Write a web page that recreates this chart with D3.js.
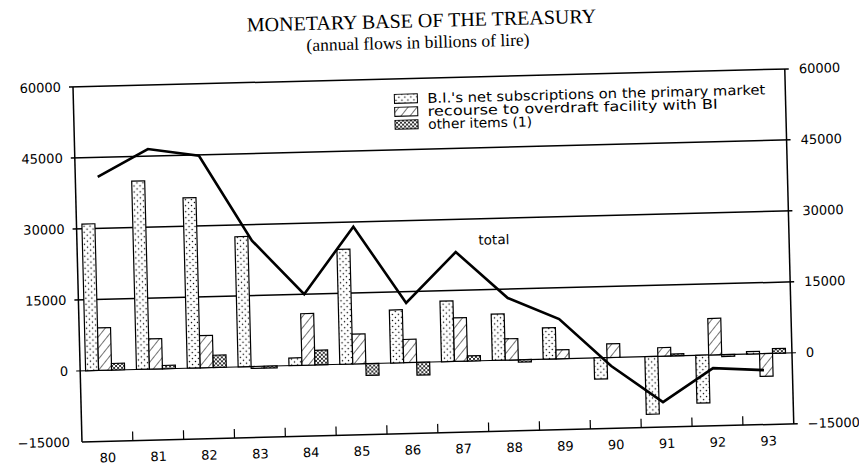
<!DOCTYPE html>
<html>
<head>
<meta charset="utf-8">
<script src="https://cdn.jsdelivr.net/npm/d3@7"></script>
<style>
  body { margin: 0; background: #fff; }
  svg { display: block; }
</style>
</head>
<body>
<div id="chart"></div>
<script>
/* Data (billions of lire) */
var years = ["80", "81", "82", "83", "84", "85", "86", "87", "88", "89", "90", "91", "92", "93"];
var subscriptions = [31000, 39800, 36000, 27500, 1600, 24300, 11200, 12800, 9800, 6600, -4500, -12200, -10100, 500];
var overdraft = [9000, 6400, 6800, -400, 10900, 6300, 4900, 9200, 4500, 1900, 2900, 1800, 7700, -4800];
var other = [1400, 700, 2600, -400, 3100, -2500, -2700, 1100, -500, 0, 0, 400, -400, 1000];
var total = [40900, 46500, 44800, 26600, 15000, 29000, 12600, 23100, 13100, 8400, -1800, -9700, -2800, -3500];
var yTicks = [-15000, 0, 15000, 30000, 45000, 60000];
var legendLabels = ["B.I.'s net subscriptions on the primary market",
                    "recourse to overdraft facility with BI",
                    "other items (1)"];

/* Dimensions: the scan is slightly tilted, so the whole drawing is rotated */
var W = 859, H = 464,
    marginLeft = 73, marginTop = 87,
    width = 712, height = 355,
    tilt = -1.45;

var svg = d3.select("#chart").append("svg").attr("width", W).attr("height", H);

/* Fill patterns */
var defs = svg.append("defs");

var dots = defs.append("pattern").attr("id", "dots")
    .attr("patternUnits", "userSpaceOnUse").attr("width", 6).attr("height", 6);
dots.append("rect").attr("width", 6).attr("height", 6).attr("fill", "#fff");
dots.append("circle").attr("cx", 1.5).attr("cy", 1.5).attr("r", 0.75).attr("fill", "#000");
dots.append("circle").attr("cx", 4.5).attr("cy", 4.5).attr("r", 0.75).attr("fill", "#000");

var hatch = defs.append("pattern").attr("id", "hatch")
    .attr("patternUnits", "userSpaceOnUse").attr("width", 7).attr("height", 7)
    .attr("patternTransform", "rotate(40)");
hatch.append("rect").attr("width", 7).attr("height", 7).attr("fill", "#fff");
hatch.append("line").attr("x1", 0).attr("y1", 0).attr("x2", 0).attr("y2", 7)
    .attr("stroke", "#000").attr("stroke-width", 1.1);

var cross = defs.append("pattern").attr("id", "cross")
    .attr("patternUnits", "userSpaceOnUse").attr("width", 4).attr("height", 4);
cross.append("rect").attr("width", 4).attr("height", 4).attr("fill", "#fff");
cross.append("path").attr("d", "M0,0L4,4M4,0L0,4").attr("stroke", "#000").attr("stroke-width", 0.8);

var fills = ["url(#dots)", "url(#hatch)", "url(#cross)"];

var g = svg.append("g")
    .attr("transform", "rotate(" + tilt + " " + marginLeft + " " + marginTop + ")")
  .append("g")
    .attr("transform", "translate(" + marginLeft + "," + marginTop + ")");

/* Scales */
var x = d3.scaleBand().domain(years).range([0, width]);
var xSeries = d3.scaleBand().domain([0, 1, 2]).range([x.bandwidth() / 2 - 20, x.bandwidth() / 2 + 19]);
var y = d3.scaleLinear().domain([-15000, 60000]).range([height, 0]);

/* Title */
g.append("text")
    .attr("x", 350).attr("y", -51)
    .attr("text-anchor", "middle")
    .style("font-family", "'Liberation Serif', serif")
    .style("font-size", "20px")
    .text("MONETARY BASE OF THE TREASURY");
g.append("text")
    .attr("x", 346).attr("y", -30)
    .attr("text-anchor", "middle")
    .style("font-family", "'Liberation Serif', serif")
    .style("font-size", "17.5px")
    .text("(annual flows in billions of lire)");

/* Horizontal grid lines */
g.selectAll(".grid")
    .data(yTicks.filter(function(d) { return d > 0; }))
    .enter().append("line")
    .attr("class", "grid")
    .attr("x1", -4).attr("x2", width + 4)
    .attr("y1", y).attr("y2", y)
    .attr("stroke", "#000").attr("stroke-width", 1.5);

/* Zero line */
g.append("line")
    .attr("x1", -4).attr("x2", width + 4)
    .attr("y1", y(0)).attr("y2", y(0))
    .attr("stroke", "#000").attr("stroke-width", 1.1);

/* Frame: left, right and bottom */
g.append("line").attr("x1", 0).attr("x2", 0).attr("y1", 0).attr("y2", height)
    .attr("stroke", "#000").attr("stroke-width", 1.5);
g.append("line").attr("x1", width).attr("x2", width).attr("y1", 0).attr("y2", height)
    .attr("stroke", "#000").attr("stroke-width", 1.5);
g.append("line").attr("x1", 0).attr("x2", width + 4).attr("y1", height).attr("y2", height)
    .attr("stroke", "#000").attr("stroke-width", 1.5);

/* Ticks between year groups */
g.selectAll(".xtick")
    .data(years.slice(1))
    .enter().append("line")
    .attr("class", "xtick")
    .attr("x1", function(d) { return x(d); })
    .attr("x2", function(d) { return x(d); })
    .attr("y1", height).attr("y2", height - 9)
    .attr("stroke", "#000").attr("stroke-width", 1.2);

/* Axis labels */
var labelFont = "'DejaVu Sans', sans-serif";
g.selectAll(".ylabel-l")
    .data(yTicks)
    .enter().append("text")
    .attr("x", -12).attr("y", y)
    .attr("dy", "0.35em")
    .attr("text-anchor", "end")
    .style("font-family", labelFont).style("font-size", "13px")
    .text(function(d) { return d < 0 ? "\u2212" + (-d) : d; });

g.selectAll(".ylabel-r")
    .data(yTicks)
    .enter().append("text")
    .attr("x", width + 14).attr("y", y)
    .attr("dy", "0.35em")
    .attr("text-anchor", "start")
    .style("font-family", labelFont).style("font-size", "13px")
    .text(function(d) { return d < 0 ? "\u2212" + (-d) : d; });

g.selectAll(".xlabel")
    .data(years)
    .enter().append("text")
    .attr("x", function(d) { return x(d) + x.bandwidth() / 2; })
    .attr("y", height + 21)
    .attr("text-anchor", "middle")
    .style("font-family", labelFont).style("font-size", "13px")
    .text(function(d) { return d; });

/* Bars */
var series = [subscriptions, overdraft, other];
series.forEach(function(values, s) {
    g.selectAll(".bar" + s)
        .data(values)
        .enter().append("rect")
        .attr("x", function(d, i) { return x(years[i]) + xSeries(s); })
        .attr("width", xSeries.bandwidth())
        .attr("y", function(d) { return y(Math.max(0, d)); })
        .attr("height", function(d) { return Math.abs(y(d) - y(0)); })
        .attr("fill", fills[s])
        .attr("stroke", "#000")
        .attr("stroke-width", 1.2);
});

/* Total line */
var line = d3.line()
    .x(function(d, i) { return x(years[i]) + x.bandwidth() / 2 - 3; })
    .y(function(d) { return y(d); });

g.append("path")
    .datum(total)
    .attr("d", line)
    .attr("fill", "none")
    .attr("stroke", "#000")
    .attr("stroke-width", 2.6)
    .attr("stroke-linejoin", "miter");

g.append("text")
    .attr("x", x("87") + x.bandwidth() / 2 + 20)
    .attr("y", y(24500))
    .style("font-family", labelFont).style("font-size", "13.5px")
    .text("total");

/* Legend */
var legendLengths = [338, 290, 104];
var legend = g.selectAll(".legend")
    .data(legendLabels)
    .enter().append("g")
    .attr("class", "legend")
    .attr("transform", function(d, i) { return "translate(321," + (20 + i * 13) + ")"; });

legend.append("rect")
    .attr("x", 0).attr("y", -4.5)
    .attr("width", 23).attr("height", 9)
    .attr("fill", function(d, i) { return fills[i]; })
    .attr("stroke", "#000").attr("stroke-width", 1);

legend.append("text")
    .attr("x", 33).attr("dy", "0.36em")
    .attr("textLength", function(d, i) { return legendLengths[i]; })
    .attr("lengthAdjust", "spacingAndGlyphs")
    .style("font-family", labelFont).style("font-size", "13.5px")
    .text(function(d) { return d; });
</script>
</body>
</html>
